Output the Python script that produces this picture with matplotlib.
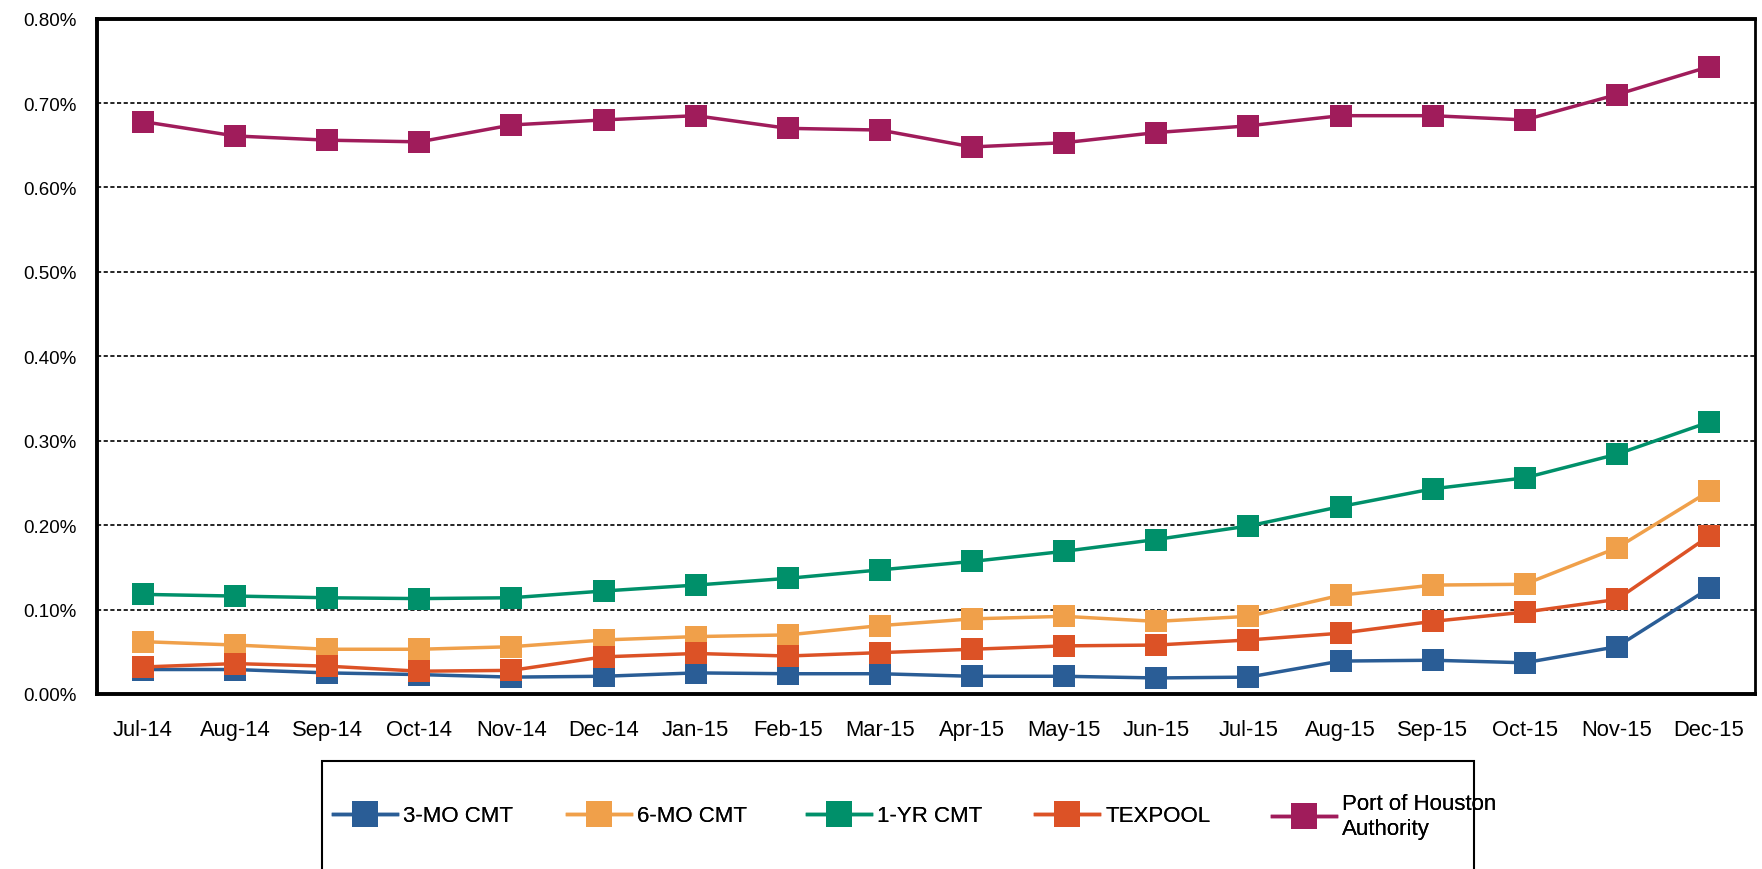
import matplotlib
matplotlib.use("Agg")
import matplotlib.pyplot as plt
from matplotlib import font_manager
from matplotlib.ticker import FuncFormatter, MultipleLocator
from matplotlib.patches import Rectangle

plt.rcParams['font.family'] = ['Liberation Sans', 'DejaVu Sans']

names = {f.name for f in font_manager.fontManager.ttflist}
NARROW = 'Liberation Sans Narrow' in names

months = ["Jul-14", "Aug-14", "Sep-14", "Oct-14", "Nov-14", "Dec-14", "Jan-15", "Feb-15",
          "Mar-15", "Apr-15", "May-15", "Jun-15", "Jul-15", "Aug-15", "Sep-15", "Oct-15",
          "Nov-15", "Dec-15"]

mo3 = [0.029, 0.029, 0.025, 0.023, 0.020, 0.021, 0.025, 0.024, 0.024, 0.021, 0.021, 0.019,
       0.020, 0.039, 0.040, 0.037, 0.056, 0.125]
mo6 = [0.062, 0.058, 0.053, 0.053, 0.056, 0.064, 0.068, 0.070, 0.081, 0.089, 0.092, 0.086,
       0.092, 0.117, 0.129, 0.130, 0.173, 0.240]
yr1 = [0.118, 0.116, 0.114, 0.113, 0.114, 0.122, 0.129, 0.137, 0.147, 0.157, 0.169, 0.183,
       0.199, 0.222, 0.243, 0.256, 0.284, 0.322]
texpool = [0.032, 0.036, 0.033, 0.027, 0.028, 0.044, 0.048, 0.045, 0.049, 0.053, 0.057, 0.058,
           0.064, 0.072, 0.086, 0.097, 0.112, 0.187]
port = [0.678, 0.661, 0.656, 0.654, 0.674, 0.680, 0.685, 0.670, 0.668, 0.648, 0.653, 0.665,
        0.673, 0.685, 0.685, 0.680, 0.710, 0.743]

labels = ["3-MO CMT", "6-MO CMT", "1-YR CMT", "TEXPOOL", "Port of Houston\nAuthority"]
colors = ["#2A5D96", "#F0A04A", "#00906A", "#DC5226", "#A01C5B"]
series = [mo3, mo6, yr1, texpool, port]

W, H = 1762, 870
fig = plt.figure(figsize=(W / 100, H / 100), dpi=100)
ax = fig.add_axes([97 / W, 1 - 695 / H, (1755 - 97) / W, (695 - 19.6) / H])

x = list(range(len(months)))
zorders = [3, 4, 5, 6, 3]
handles = []
for s, lab, c, z in zip(series, labels, colors, zorders):
    h, = ax.plot(x, s, color=c, lw=2.5, marker='s', markersize=15.8,
                 markeredgewidth=0, label=lab, zorder=z)
    handles.append(h)

ax.set_ylim(0, 0.8)
ax.set_xlim(-0.5, 17.5)
ax.yaxis.set_major_locator(MultipleLocator(0.1))
ax.yaxis.set_major_formatter(FuncFormatter(lambda v, p: f"{v:.2f}%"))
ax.set_xticks(x)
ax.set_xticklabels(months)
ax.tick_params(axis='both', length=0, colors='black')
ax.tick_params(axis='x', labelsize=15.8, pad=18)
ax.tick_params(axis='y', pad=15)
yfam = ['Liberation Sans Narrow', 'Liberation Sans'] if NARROW else ['Liberation Sans']
ysize = 15.5 if NARROW else 13.5
for t in ax.get_yticklabels():
    t.set_fontfamily(yfam)
    t.set_fontsize(ysize)
ax.grid(axis='y', linestyle=(0, (2.5, 1.5)), color='black', lw=1.2, zorder=1)
for name, sp in ax.spines.items():
    sp.set_linewidth(2.0 if name == 'right' else 2.8)
    sp.set_color('black')

# legend box
fig.patches.append(Rectangle((322 / W, -0.01), (1474 - 322) / W, (870 - 762) / H + 0.01,
                             transform=fig.transFigure, fill=False, edgecolor='black',
                             linewidth=1.5))

lfam = ['Liberation Sans Narrow', 'Liberation Sans'] if NARROW else ['Liberation Sans']
lsize = 19 if NARROW else 16
handle_left = [333, 567, 807, 1035, 1272]
for h, lab, xl in zip(handles, labels, handle_left):
    leg = fig.legend(handles=[h], labels=[lab], loc='center left',
                     bbox_to_anchor=(xl / W, 1 - 817 / H), frameon=False,
                     prop={'family': lfam, 'size': lsize},
                     handlelength=2.9, handletextpad=0.25, borderaxespad=0, borderpad=0,
                     markerscale=1.22)
    fig.add_artist(leg)

fig.savefig("out.png", dpi=100)
